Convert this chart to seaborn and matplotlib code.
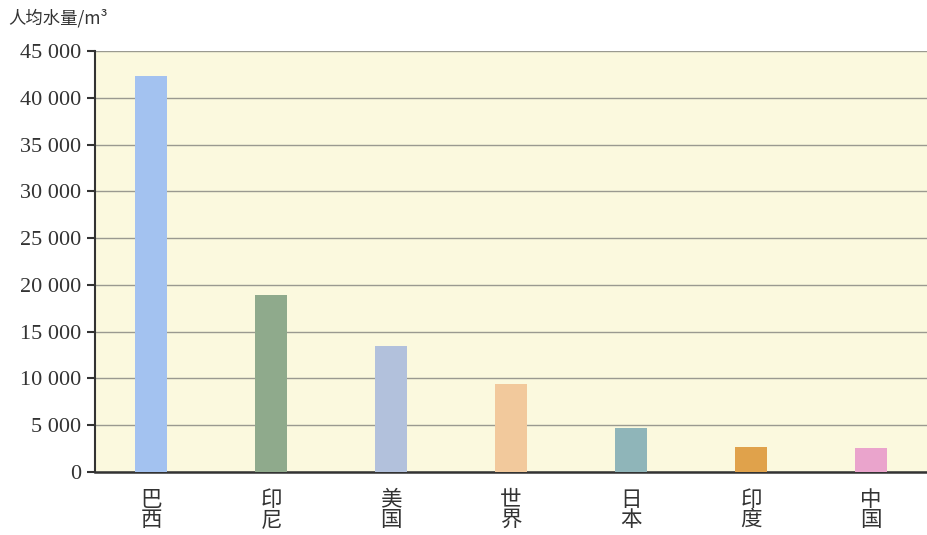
import matplotlib
matplotlib.use("Agg")
import matplotlib.pyplot as plt
import seaborn as sns
import pandas as pd

countries = ["巴\n西", "印\n尼", "美\n国", "世\n界", "日\n本", "印\n度", "中\n国"]
values = [42300, 18950, 13500, 9400, 4750, 2700, 2600]
colors = ["#a3c2f0", "#8faa8c", "#b2c1dc", "#f2c99c", "#8fb5b9", "#e0a24b", "#eaa4cc"]
yticks = [0, 5000, 10000, 15000, 20000, 25000, 30000, 35000, 40000, 45000]
ytick_labels = ["0", "5 000", "10 000", "15 000", "20 000", "25 000", "30 000", "35 000", "40 000", "45 000"]

sns.set_theme(style="white")
plt.rcParams["font.family"] = ["Liberation Serif", "Noto Sans CJK SC", "DejaVu Sans"]

df = pd.DataFrame({"country": countries, "value": values})

fig = plt.figure(figsize=(9.28, 5.35), dpi=100)
ax = fig.add_axes([95 / 928, 1 - 472 / 535, 1 - 95 / 928, (472 - 51) / 535])
ax.set_facecolor("#fbf9de")

sns.barplot(data=df, x="country", y="value", hue="country", palette=colors,
            legend=False, width=0.27, saturation=1, linewidth=0, ax=ax, zorder=3)

ax.set_ylim(0, 45000)
ax.set_xlim(-0.467, 6.475)
ax.set_yticks(yticks)
ax.set_yticklabels(ytick_labels, fontsize=16, color="#333333")
ax.tick_params(axis="y", direction="out", length=6, width=1.5, color="#333333", pad=4, left=True)
ax.tick_params(axis="x", length=0, pad=12, labelsize=15.5, labelcolor="#333333")
for lbl in ax.get_xticklabels():
    lbl.set_linespacing(0.9)
    lbl.set_family(["Noto Sans CJK SC", "DejaVu Sans"])
    lbl.set_fontweight("light")
ax.grid(axis="y", color="#9a9a90", linewidth=1.0, zorder=0)
ax.set_axisbelow(True)
for s in ["top", "right"]:
    ax.spines[s].set_visible(False)
ax.spines["left"].set_color("#333333")
ax.spines["left"].set_linewidth(1.5)
ax.spines["bottom"].set_color("#333333")
ax.spines["bottom"].set_linewidth(1.8)
ax.set_xlabel("")
ax.set_ylabel("")

fig.text(8 / 928, 1 - 18 / 535, "人均水量/m³", fontsize=12.5, color="#333333",
         va="center", ha="left", family=["Noto Sans CJK SC", "DejaVu Sans"])

fig.savefig("out.png", dpi=100, facecolor="white")
